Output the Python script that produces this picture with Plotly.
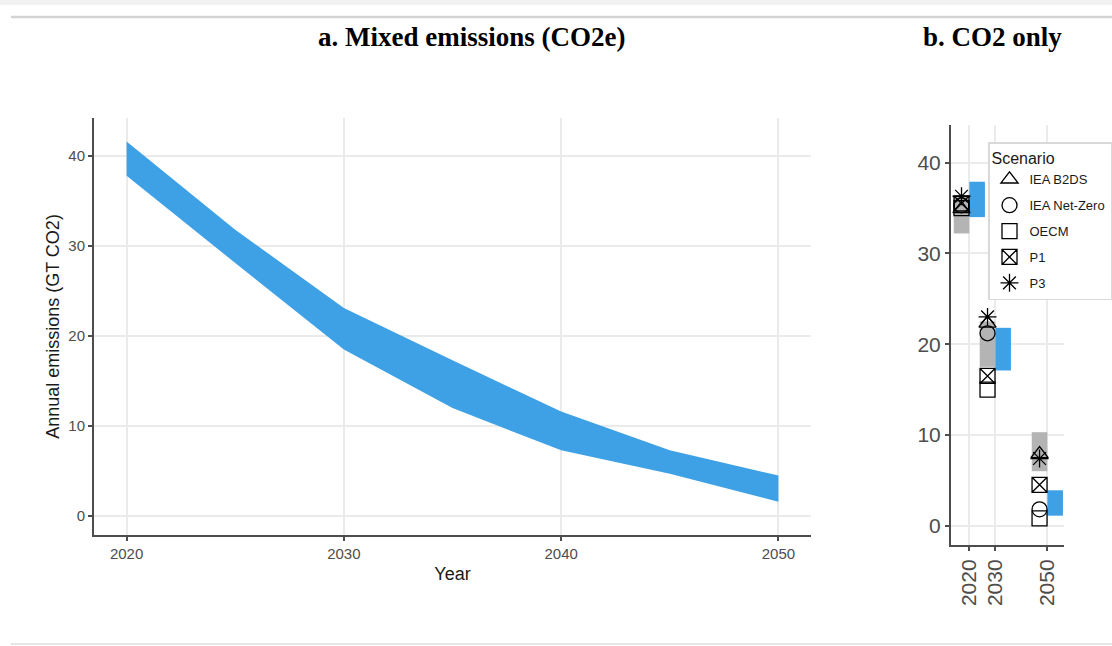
import plotly.graph_objects as go

# ---------- data ----------
# Panel a: mixed emissions band (CO2e)
years_a = [2020, 2025, 2030, 2035, 2040, 2045, 2050]
band_upper = [41.6, 31.8, 23.1, 17.3, 11.6, 7.3, 4.5]
band_lower = [37.8, 28.1, 18.5, 12.0, 7.3, 4.7, 1.6]

# Panel b: CO2 only
gray_x = [2017, 2027, 2047]
gray_low = [32.2, 17.5, 6.0]
gray_high = [36.3, 22.5, 10.3]

blue_x = [2023, 2033, 2053]
blue_low = [34.0, 17.1, 1.1]
blue_high = [37.9, 21.8, 3.9]

scen_x = [2017, 2027, 2047]
scenarios = ["IEA B2DS", "IEA Net-Zero", "OECM", "P1", "P3"]
scen_symbols = ["triangle-up-open", "circle-open", "square-open", "square-x-open", "asterisk-open"]
scen_values = {
    "IEA B2DS": [34.9, 22.3, 7.9],
    "IEA Net-Zero": [35.3, 21.2, 1.8],
    "OECM": [35.0, 15.0, 0.8],
    "P1": [35.5, 16.5, 4.5],
    "P3": [36.3, 23.0, 7.4],
}

ticks_a_x = [2020, 2030, 2040, 2050]
ticks_y = [0, 10, 20, 30, 40]
ticks_b_x = [2020, 2030, 2050]

W, H = 1112, 646
BLUE = "#3fa1e5"
GRAY = "#b4b4b4"
FONT = "Liberation Sans"

fig = go.Figure()

# Panel a band
fig.add_trace(go.Scatter(
    x=years_a + years_a[::-1],
    y=band_upper + band_lower[::-1],
    fill="toself", fillcolor=BLUE, mode="lines",
    line=dict(width=0, color=BLUE), showlegend=False,
    xaxis="x", yaxis="y", hoverinfo="skip"))

# Panel b bars
fig.add_trace(go.Bar(
    x=gray_x, y=[h - l for h, l in zip(gray_high, gray_low)], base=gray_low,
    width=6, marker=dict(color=GRAY, line=dict(width=0)), showlegend=False,
    xaxis="x2", yaxis="y2"))
fig.add_trace(go.Bar(
    x=blue_x, y=[h - l for h, l in zip(blue_high, blue_low)], base=blue_low,
    width=6, marker=dict(color=BLUE, line=dict(width=0)), showlegend=False,
    xaxis="x2", yaxis="y2"))

for name, sym in zip(scenarios, scen_symbols):
    fig.add_trace(go.Scatter(
        x=scen_x, y=scen_values[name], mode="markers", name=name, legendgroup=name,
        marker=dict(symbol=sym, size=15, color="black", line=dict(width=1.3, color="black")),
        xaxis="x2", yaxis="y2"))

def px_x(p):
    return p / W

def px_y(p):
    return (H - p) / H

axis_common = dict(
    showline=True, linecolor="#4d4d4d", linewidth=2,
    ticks="outside", ticklen=4, tickwidth=1.5, tickcolor="#4d4d4d",
    showgrid=True, gridcolor="#ebebeb", gridwidth=1.5, zeroline=False,
    mirror=False,
)

fig.update_layout(
    width=W, height=H, autosize=False,
    margin=dict(l=0, r=0, t=0, b=0),
    paper_bgcolor="white", plot_bgcolor="white",
    barmode="overlay",
    font=dict(family=FONT, color="#1a1a1a"),
    xaxis=dict(**axis_common, domain=[px_x(94), px_x(811)], range=[2018.5, 2051.5],
               tickvals=ticks_a_x, tickfont=dict(size=15, color="#4d4d4d"),
               title=dict(text="Year", font=dict(size=18, color="#1a1a1a"), standoff=6),
               anchor="y"),
    yaxis=dict(**axis_common, domain=[px_y(535), px_y(118)], range=[-2.1, 44.2],
               tickvals=ticks_y, tickfont=dict(size=15, color="#4d4d4d"),
               title=dict(text="Annual emissions (GT CO2)", font=dict(size=18, color="#1a1a1a"), standoff=4),
               anchor="x"),
    xaxis2=dict(**axis_common, domain=[px_x(951), px_x(1064)], range=[2012.96, 2056.4],
                tickvals=ticks_b_x, tickangle=-90, tickfont=dict(size=21, color="#4d4d4d"),
                anchor="y2"),
    yaxis2=dict(**axis_common, domain=[px_y(545), px_y(125)], range=[-2.13, 44.15],
                tickvals=ticks_y, tickfont=dict(size=21, color="#4d4d4d"),
                anchor="x2"),
    legend=dict(
        x=px_x(988), y=px_y(142), xanchor="left", yanchor="top",
        bgcolor="white", bordercolor="#d9d9d9", borderwidth=1.5,
        font=dict(size=13, color="#1a1a1a", family=FONT),
        title=dict(text="Scenario", font=dict(size=16, color="#1a1a1a")),
        traceorder="grouped", tracegroupgap=6,
    ),
    annotations=[
        dict(text="<b>a. Mixed emissions (CO2e)</b>", x=px_x(471), y=px_y(37),
             xref="paper", yref="paper", showarrow=False, xanchor="center", yanchor="middle",
             font=dict(family="Liberation Serif", size=27, color="black")),
        dict(text="<b>b. CO2 only</b>", x=px_x(992), y=px_y(37),
             xref="paper", yref="paper", showarrow=False, xanchor="center", yanchor="middle",
             font=dict(family="Liberation Serif", size=27, color="black")),
    ],
    shapes=[
        dict(type="rect", xref="paper", yref="paper", x0=0, x1=1, y0=px_y(5), y1=1,
             fillcolor="#f2f2f2", line=dict(width=0), layer="below"),
        dict(type="line", xref="paper", yref="paper", x0=px_x(11), x1=1, y0=px_y(17), y1=px_y(17),
             line=dict(color="#d3d3d3", width=2.5)),
        dict(type="line", xref="paper", yref="paper", x0=px_x(11), x1=1, y0=px_y(644), y1=px_y(644),
             line=dict(color="#dddddd", width=1.5)),
    ],
)

fig.write_html(
    "out.html",
    config={"responsive": False, "displayModeBar": False},
    post_script=(
        "document.body.style.margin='0';document.body.style.padding='0';"
        "document.body.style.overflow='hidden';"
        "document.documentElement.style.overflow='hidden';"
    ),
)
